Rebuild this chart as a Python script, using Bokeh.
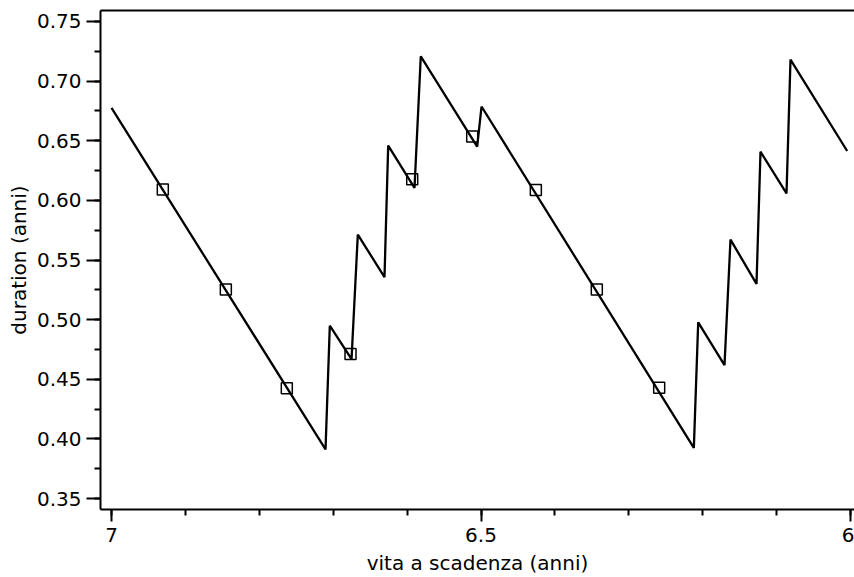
from bokeh.plotting import figure
from bokeh.models import Range1d, LinearAxis, FixedTicker, CustomJSTickFormatter
from bokeh.embed import file_html
from bokeh.resources import INLINE

# sawtooth duration path (x = vita a scadenza, y = duration)
line_x = [7.0, 6.7104, 6.7046, 6.6752, 6.6667, 6.6306, 6.6256, 6.5900, 6.5815,
          6.5052, 6.4993, 6.2120, 6.2061, 6.1705, 6.1624, 6.1272, 6.1218,
          6.0866, 6.0812, 6.0045]
line_y = [0.6775, 0.3912, 0.4949, 0.4669, 0.5713, 0.5356, 0.6459, 0.6105, 0.7208,
          0.6450, 0.6787, 0.3925, 0.4977, 0.4619, 0.5671, 0.5300, 0.6408,
          0.6058, 0.7180, 0.6414]

# square markers
mark_x = [6.9306, 6.8453, 6.7628, 6.6766, 6.5931, 6.5119, 6.4258, 6.3433, 6.2589]
mark_y = [0.6092, 0.5253, 0.4425, 0.4711, 0.6178, 0.6535, 0.6086, 0.5253, 0.4428]

x_ticks = [7.0, 6.5, 6.0]
x_tick_labels = {7.0: "7", 6.5: "6.5", 6.0: "6"}
y_ticks = [0.35, 0.40, 0.45, 0.50, 0.55, 0.60, 0.65, 0.70, 0.75]

FONT = "DejaVu Sans"

p = figure(width=854, height=577, output_backend="svg", toolbar_location=None,
           x_range=Range1d(7.0149, 5.9946), y_range=Range1d(0.3408, 0.7592),
           min_border_left=100, min_border_right=0, min_border_top=10, min_border_bottom=0)
p.outline_line_color = None
p.xgrid.visible = False
p.ygrid.visible = False
p.background_fill_color = "white"
p.border_fill_color = "white"

p.line(line_x, line_y, line_color="black", line_width=2.3)
p.scatter(mark_x, mark_y, marker="square", size=11, fill_alpha=0,
          line_color="black", line_width=1.5)

xa = p.xaxis[0]
xa.ticker = FixedTicker(ticks=x_ticks, minor_ticks=[7.0 - 0.1 * i for i in range(11)])
xa.major_label_overrides = x_tick_labels
xa.axis_label = "vita a scadenza (anni)"
xa.major_tick_out = 12
xa.major_tick_in = 0
xa.minor_tick_out = 6
xa.minor_tick_in = 0
xa.major_label_standoff = 6
xa.axis_label_standoff = 6

ya = p.yaxis[0]
ya.ticker = FixedTicker(ticks=y_ticks, minor_ticks=[0.35 + 0.025 * i for i in range(17)])
ya.formatter = CustomJSTickFormatter(code="return tick.toFixed(2);")
ya.axis_label = "duration (anni)"
ya.major_tick_out = 14
ya.major_tick_in = 0
ya.minor_tick_out = 6
ya.minor_tick_in = 0
ya.major_label_standoff = 5
ya.axis_label_standoff = 3

for ax in (xa, ya):
    ax.axis_line_width = 2
    ax.axis_line_color = "black"
    ax.major_tick_line_width = 2
    ax.minor_tick_line_width = 2
    ax.major_tick_line_color = "black"
    ax.minor_tick_line_color = "black"
    ax.major_label_text_font = FONT
    ax.major_label_text_font_size = "20px"
    ax.major_label_text_color = "black"
    ax.axis_label_text_font = FONT
    ax.axis_label_text_font_size = "20px"
    ax.axis_label_text_font_style = "normal"
    ax.axis_label_text_color = "black"

top = LinearAxis(ticker=FixedTicker(ticks=[]), major_tick_out=0, major_tick_in=0,
                 minor_tick_out=0, minor_tick_in=0, axis_line_width=2,
                 axis_line_color="black", major_label_text_font_size="0px")
p.add_layout(top, "above")

open("out.html", "w").write(file_html(p, INLINE))
